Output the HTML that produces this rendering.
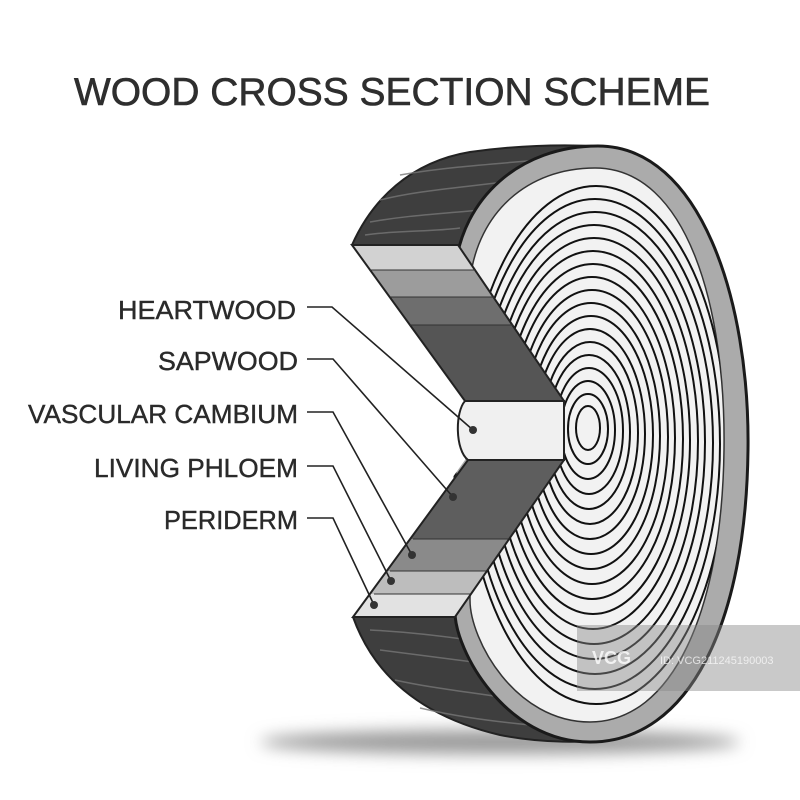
<!DOCTYPE html>
<html><head><meta charset="utf-8"><style>html,body{margin:0;padding:0;background:#fff}svg{display:block}</style></head>
<body>
<svg width="800" height="800" viewBox="0 0 800 800" xmlns="http://www.w3.org/2000/svg">
<defs>
<filter id="bl" x="-50%" y="-200%" width="200%" height="500%"><feGaussianBlur stdDeviation="8"/></filter>
<clipPath id="up"><polygon points="352,245 458,245 564,401 465,401"/></clipPath>
<clipPath id="lo"><polygon points="468,460 564,460 455,617 353,617"/></clipPath>
<clipPath id="inner"><path d="M595,168 C688,168 726,310 724,450 C722,612 672,722 590,722 C515,722 470,640 470,600 L470,280 C478,212 528,168 595,168Z"/></clipPath>
</defs>
<rect width="800" height="800" fill="#fff"/>
<text x="392" y="105" text-anchor="middle" font-family="Liberation Sans, sans-serif" font-size="39" fill="#2e2e2e" stroke="#2e2e2e" stroke-width="0.6" textLength="636" lengthAdjust="spacingAndGlyphs">WOOD CROSS SECTION SCHEME</text>

<ellipse cx="500" cy="742" rx="240" ry="12" fill="#999" filter="url(#bl)"/>

<!-- bark -->
<path d="M352,245 C372,200 410,162 470,152 C520,145 570,144 612,147 L612,320 L458,245 Z" fill="#3e3e3e" stroke="#222" stroke-width="2"/>
<path d="M353,617 C372,670 415,715 500,735 C545,744 585,742 612,740 L612,600 L455,617 Z" fill="#3e3e3e" stroke="#222" stroke-width="2"/>
<g stroke="#777" stroke-width="1.5" fill="none" opacity="0.8">
<path d="M380,200 C420,190 460,188 520,180"/><path d="M370,222 C410,215 440,214 480,210"/><path d="M400,175 C440,168 480,165 540,160"/><path d="M365,235 C400,230 430,232 460,228"/>
<path d="M380,650 C420,655 460,660 520,668"/><path d="M395,680 C430,688 470,692 520,700"/><path d="M370,630 C410,632 440,636 470,640"/><path d="M420,708 C450,715 480,720 530,725"/>
</g>

<!-- face -->
<path d="M598,146 C700,146 750,300 748,450 C746,622 690,742 590,742 C505,742 455,650 455,612 L455,270 C462,198 520,146 598,146Z" fill="#ababab" stroke="#1a1a1a" stroke-width="3"/>
<path d="M595,168 C688,168 726,310 724,450 C722,612 672,722 590,722 C515,722 470,640 470,600 L470,280 C478,212 528,168 595,168Z" fill="#f2f2f2" stroke="#333" stroke-width="1.5"/>
<g clip-path="url(#inner)" fill="none" stroke="#111" stroke-width="2">
<ellipse cx="588" cy="428" rx="12" ry="22"/>
<ellipse cx="588" cy="429" rx="20" ry="35"/>
<ellipse cx="588" cy="430" rx="27" ry="49"/>
<ellipse cx="589" cy="431" rx="34" ry="63"/>
<ellipse cx="589" cy="432" rx="41" ry="77"/>
<ellipse cx="590" cy="433" rx="48" ry="91"/>
<ellipse cx="590" cy="434" rx="55" ry="105"/>
<ellipse cx="591" cy="435" rx="62" ry="119"/>
<ellipse cx="591" cy="436" rx="69" ry="133"/>
<ellipse cx="592" cy="437" rx="76" ry="147"/>
<ellipse cx="592" cy="438" rx="83" ry="161"/>
<ellipse cx="593" cy="439" rx="90" ry="175"/>
<ellipse cx="593" cy="440" rx="97" ry="189"/>
<ellipse cx="594" cy="441" rx="104" ry="203"/>
<ellipse cx="594" cy="442" rx="111" ry="217"/>
<ellipse cx="595" cy="443" rx="118" ry="231"/>
<ellipse cx="595" cy="444" rx="125" ry="245"/>
<ellipse cx="596" cy="445" rx="131" ry="259"/>
</g>

<!-- notch -->
<polygon points="300,245 352,245 465,401 465,460 353,617 300,617" fill="#fff"/>

<!-- upper arm -->
<g clip-path="url(#up)">
<rect x="340" y="245" width="240" height="25" fill="#d2d2d2"/>
<rect x="340" y="270" width="240" height="27" fill="#9c9c9c"/>
<rect x="340" y="297" width="240" height="28" fill="#6e6e6e"/>
<rect x="340" y="325" width="240" height="76" fill="#555"/>
</g>
<polygon points="352,245 458,245 564,401 465,401" fill="none" stroke="#222" stroke-width="2"/>
<g stroke="#333" stroke-width="1"><line x1="370" y1="270" x2="475" y2="270"/><line x1="390" y1="297" x2="494" y2="297"/><line x1="410" y1="325" x2="513" y2="325"/></g>

<!-- lower arm -->
<g clip-path="url(#lo)">
<rect x="340" y="460" width="240" height="79" fill="#5e5e5e"/>
<rect x="340" y="539" width="240" height="32" fill="#8a8a8a"/>
<rect x="340" y="571" width="240" height="23" fill="#bdbdbd"/>
<rect x="340" y="594" width="240" height="23" fill="#e2e2e2"/>
</g>
<polygon points="468,460 564,460 455,617 353,617" fill="none" stroke="#222" stroke-width="2"/>
<g stroke="#333" stroke-width="1"><line x1="413" y1="539" x2="508" y2="539"/><line x1="390" y1="571" x2="486" y2="571"/><line x1="374" y1="594" x2="470" y2="594"/></g>

<!-- center bar -->
<path d="M465,401 L564,401 L564,460 L468,460 C455,450 455,412 465,401Z" fill="#f0f0f0" stroke="#222" stroke-width="2"/>

<!-- labels -->
<g font-family="Liberation Sans, sans-serif" font-size="26" fill="#2a2a2a" stroke="#2a2a2a" stroke-width="0.4" text-anchor="end">
<text x="296" y="319" textLength="178" lengthAdjust="spacingAndGlyphs">HEARTWOOD</text>
<text x="298" y="370" textLength="140" lengthAdjust="spacingAndGlyphs">SAPWOOD</text>
<text x="298" y="423" textLength="270" lengthAdjust="spacingAndGlyphs">VASCULAR CAMBIUM</text>
<text x="298" y="477" textLength="204" lengthAdjust="spacingAndGlyphs">LIVING PHLOEM</text>
<text x="298" y="529" textLength="134" lengthAdjust="spacingAndGlyphs">PERIDERM</text>
</g>
<g fill="none" stroke="#222" stroke-width="1.6">
<polyline points="307,307 332,307 473,430"/>
<polyline points="307,359 333,359 453,497"/>
<polyline points="307,412 333,412 412,555"/>
<polyline points="307,466 333,466 391,581"/>
<polyline points="307,518 333,518 374,605"/>
</g>
<g fill="#333"><circle cx="473" cy="430" r="4"/><circle cx="453" cy="497" r="4"/><circle cx="412" cy="555" r="4"/><circle cx="391" cy="581" r="4"/><circle cx="374" cy="605" r="4"/></g>

<!-- watermark -->
<rect x="577" y="625" width="223" height="66" fill="#888" opacity="0.45"/>
<text x="592" y="664" font-family="Liberation Sans, sans-serif" font-size="18" font-weight="bold" fill="#fff" opacity="0.8">VCG</text>
<text x="660" y="664" font-family="Liberation Sans, sans-serif" font-size="11" fill="#fff" opacity="0.7">ID: VCG211245190003</text>
</svg>
</body></html>
